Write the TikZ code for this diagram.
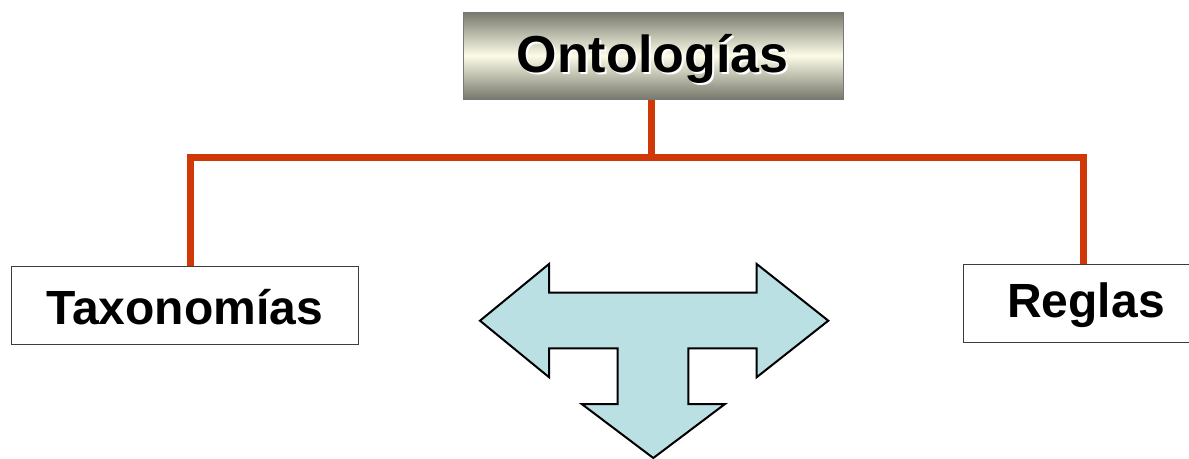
\documentclass[tikz,border=0pt]{standalone}
\usepackage{fontspec}
\setmainfont{Liberation Sans}
\definecolor{connred}{RGB}{208,56,8}
\definecolor{arrowfill}{RGB}{187,224,227}
\definecolor{grad1}{RGB}{120,120,108}
\definecolor{grad2}{RGB}{252,252,232}
\definecolor{boxline}{RGB}{60,60,60}
\definecolor{topline}{RGB}{120,120,120}
\tikzset{
  conn/.style={draw=connred, line width=7pt, line join=miter},
  leafbox/.style={draw=boxline, line width=1pt, fill=white, minimum height=78pt, inner sep=0pt,
    font=\fontsize{48}{50}\selectfont\bfseries},
  leaftext/.style={font=\fontsize{48}{50}\selectfont\bfseries},
  topbox/.style={draw=topline, line width=1pt, minimum width=380pt, minimum height=87pt, inner sep=0pt,
    top color=grad1, bottom color=grad1, middle color=grad2},
  toptext/.style={font=\fontsize{52}{54}\selectfont\bfseries},
  tarrow/.style={draw=black, line width=2pt, fill=arrowfill, line join=miter}
}
\begin{document}
\begin{tikzpicture}[x=1pt,y=-1pt]
\useasboundingbox (0,0) rectangle (1189,458);
\fill[white] (0,0) rectangle (1189,458);
% top node
\node[topbox] (onto) at (653,55.5) {};
\node[toptext, text=white] (ontoshadow) at (654.5,60.5) {Ontologías};
\node[toptext, text=black] (ontotext) at (652.5,58.5) {Ontologías};
% leaf nodes
\node[leafbox, minimum width=347pt] (taxo) at (184.5,305) {};
\node[leaftext] (taxotext) at (184.5,307) {Taxonomías};
\node[leafbox, minimum width=246pt] (reglas) at (1086,303) {};
\node[leaftext] (reglastext) at (1086,305) {Reglas};
% connectors
\coordinate (j) at (651,157);
\draw[conn] ([xshift=-2pt]onto.south) -- (j);
\draw[conn] ([xshift=5.5pt]taxo.north) |- (j) -| ([xshift=-3pt]reglas.north);
% T-shaped arrow
\draw[tarrow] (480,320.7) -- (549,264) -- (549,292.7) -- (756.7,292.7) -- (756.7,264)
  -- (828.3,320.7) -- (756.7,377.2) -- (756.7,348.3) -- (688.3,348.3) -- (688.3,404)
  -- (725,404) -- (653.3,458) -- (581.7,404) -- (617.7,404) -- (617.7,348.3)
  -- (549,348.3) -- (549,377.2) -- cycle;
\end{tikzpicture}
\end{document}
